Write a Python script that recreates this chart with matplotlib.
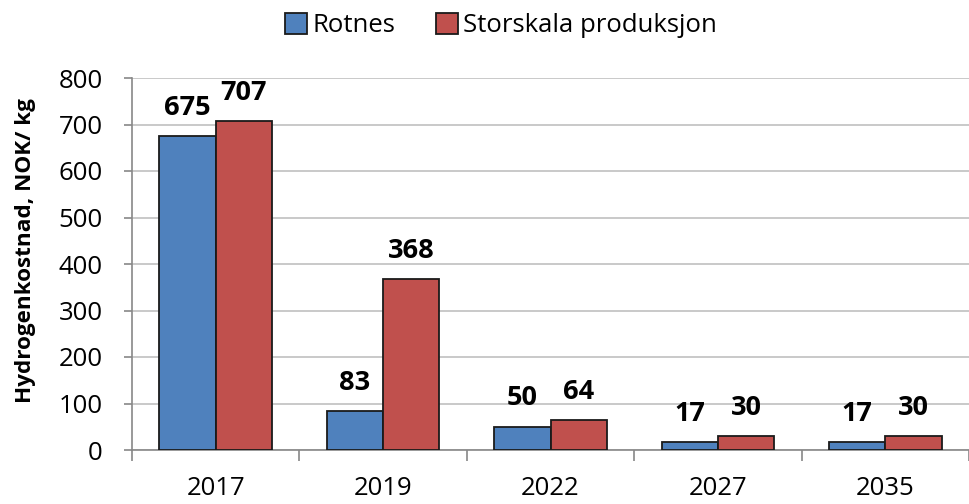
import matplotlib
matplotlib.use("Agg")
import matplotlib.pyplot as plt
import numpy as np

categories = ["2017", "2019", "2022", "2027", "2035"]
rotnes = [675, 83, 50, 17, 17]
storskala = [707, 368, 64, 30, 30]
series_names = ["Rotnes", "Storskala produksjon"]
ylabel = "Hydrogenkostnad, NOK/ kg"

plt.rcParams['font.family'] = ['Open Sans', 'DejaVu Sans']

fig = plt.figure(figsize=(9.69, 5.04), dpi=100)
ax = fig.add_axes([132/969, 54/504, 1 - 132/969, (450-78)/504])

x = np.arange(len(categories))
w = 0.336
blue = "#4F81BD"
red = "#C0504D"
b1 = ax.bar(x - w/2, rotnes, w, color=blue, edgecolor="#1a1a1a", linewidth=1.3, label=series_names[0], zorder=3)
b2 = ax.bar(x + w/2, storskala, w, color=red, edgecolor="#1a1a1a", linewidth=1.3, label=series_names[1], zorder=3)

for bars, vals in ((b1, rotnes), (b2, storskala)):
    for r, v in zip(bars, vals):
        ax.annotate(str(v), (r.get_x() + r.get_width()/2, v), xytext=(0, 11),
                    textcoords="offset points", ha="center", va="bottom",
                    fontsize=19.5, fontweight="bold", color="black")

ax.set_ylim(0, 800)
ax.set_yticks(range(0, 801, 100))
ax.set_xlim(-0.5, 4.5 - 10.5/169.5)
ax.set_xticks(x)
ax.set_xticklabels(categories)
ax.set_xticks(np.arange(-0.5, 5, 1), minor=True)
ax.tick_params(axis='x', which='major', length=0, pad=18.5, labelsize=18.5)
ax.tick_params(axis='x', which='minor', length=8, color="#888888", width=1.2)
ax.tick_params(axis='y', length=6, color="#888888", width=1.2, labelsize=18.5, pad=15)
ax.grid(axis='y', color="#c0c0c0", linewidth=1.2, zorder=0)
ax.set_axisbelow(True)
for s in ["top", "right"]:
    ax.spines[s].set_visible(False)
for s in ["left", "bottom"]:
    ax.spines[s].set_color("#888888")
    ax.spines[s].set_linewidth(1.2)

ax.set_ylabel(ylabel, fontsize=16.2, fontweight="bold", labelpad=8)
ax.yaxis.set_label_coords(-96/837, 0.535)

fig.legend(handles=[b1, b2], labels=series_names, loc="upper center", bbox_to_anchor=(0.517, 1.02),
           ncol=2, frameon=False, fontsize=18.5, handlelength=0.85, handleheight=0.85,
           handletextpad=0.2, columnspacing=1.6)

fig.savefig("out.png", dpi=100)
